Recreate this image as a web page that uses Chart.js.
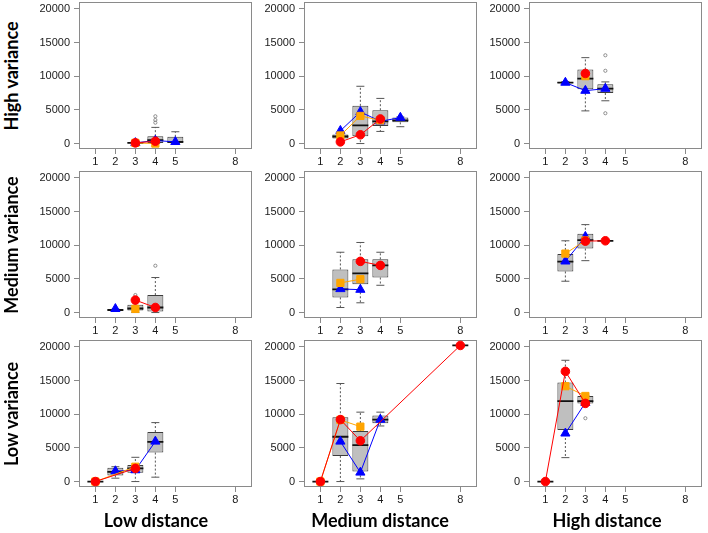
<!DOCTYPE html>
<html><head><meta charset="utf-8">
<script src="https://cdn.jsdelivr.net/npm/chart.js@4.4.0/dist/chart.umd.min.js"></script>
<style>
html,body{margin:0;padding:0;background:#fff;width:708px;height:533px;overflow:hidden;position:relative;}
.panel{position:absolute;}
.rowlab{position:absolute;font-family:Lato,"Open Sans",sans-serif;font-weight:bold;font-size:18px;color:#000;white-space:nowrap;transform:translate(-50%,-50%) rotate(-90deg);}
.collab{position:absolute;font-family:Lato,"Open Sans",sans-serif;font-weight:bold;font-size:18px;color:#000;white-space:nowrap;transform:translate(-50%,-50%);}
</style></head><body>
<script>
// ---------- data ----------
const xTicks = [1, 2, 3, 4, 5, 8];
const yTicks = [0, 5000, 10000, 15000, 20000];
const varianceLabels = ['High variance', 'Medium variance', 'Low variance'];
const distanceLabels = ['Low distance', 'Medium distance', 'High distance'];

// boxes: [position, lower whisker, Q1, median, Q3, upper whisker]
// outliers / series points: [position, value]

// High variance, low distance
const boxesHvLd = [[3, 0, 60, 100, 150, 200], [4, 0, 100, 500, 1100, 2400], [5, 0, 100, 250, 1000, 1750]];
const outliersHvLd = [[4, 3100], [4, 3500], [4, 4050]];
const blueHvLd = [[3, 100], [4, 450], [5, 250]];
const orangeHvLd = [[3, 100], [4, 0]];
const redHvLd = [[3, 100], [4, 350]];

// High variance, medium distance
const boxesHvMd = [[2, 500, 750, 1050, 1350, 1600], [3, 0, 1100, 2700, 5600, 8500], [4, 1800, 2600, 3300, 4950, 6700], [5, 2500, 3150, 3450, 3850, 3950]];
const outliersHvMd = [];
const blueHvMd = [[2, 1900], [3, 4700], [4, 3300], [5, 3850]];
const orangeHvMd = [[2, 1200], [3, 4100], [4, 3450]];
const redHvMd = [[2, 250], [3, 1300], [4, 3650]];

// High variance, high distance
const boxesHvHd = [[2, 8950, 9000, 9050, 9150, 9200], [3, 4850, 8050, 9650, 11000, 12750], [4, 6350, 7500, 8150, 8800, 9150]];
const outliersHvHd = [[4, 13100], [4, 10800], [4, 4500]];
const blueHvHd = [[2, 9050], [3, 7850], [4, 8150]];
const orangeHvHd = [[3, 10000]];
const redHvHd = [[3, 10400]];

// Medium variance, low distance
const boxesMvLd = [[2, 200, 300, 380, 450, 500], [3, 0, 300, 600, 1150, 1900], [4, 0, 150, 750, 2600, 5200]];
const outliersMvLd = [[3, 2600], [4, 6950]];
const blueMvLd = [[2, 550]];
const orangeMvLd = [[3, 550]];
const redMvLd = [[3, 1850], [4, 750]];

// Medium variance, medium distance
const boxesMvMd = [[2, 750, 2250, 3450, 6400, 8950], [3, 1450, 4200, 5800, 7900, 10400], [4, 4050, 5200, 7000, 7900, 8950]];
const outliersMvMd = [];
const blueMvMd = [[2, 3500], [3, 3400]];
const orangeMvMd = [[2, 4400], [3, 4950]];
const redMvMd = [[3, 7600], [4, 7000]];

// Medium variance, high distance
const boxesMvHd = [[2, 4650, 6100, 7550, 8700, 10650], [3, 7700, 9500, 10750, 11700, 13050], [4, 10650, 10650, 10650, 10650, 10650]];
const outliersMvHd = [];
const blueMvHd = [[2, 7600], [3, 11250]];
const orangeMvHd = [[2, 8750], [3, 10700]];
const redMvHd = [[3, 10600], [4, 10650]];

// Low variance, low distance
const boxesLvLd = [[1, 0, 0, 0, 0, 0], [2, 500, 900, 1450, 2050, 2200], [3, 0, 1300, 1950, 2450, 3600], [4, 650, 4300, 5900, 7350, 8750]];
const outliersLvLd = [];
const blueLvLd = [[2, 1550], [3, 1700], [4, 5950]];
const orangeLvLd = [[1, 0], [3, 2200]];
const redLvLd = [[1, 0], [3, 1950]];

// Low variance, medium distance
const boxesLvMd = [[1, 0, 0, 0, 0, 0], [2, 0, 3800, 6650, 9550, 14550], [3, 400, 1500, 5400, 7500, 10300], [4, 8250, 8650, 9200, 9800, 10300], [8, 20200, 20200, 20200, 20200, 20200]];
const outliersLvMd = [];
const blueLvMd = [[2, 5950], [3, 1350], [4, 9200]];
const orangeLvMd = [[1, 0], [2, 9150], [3, 8150]];
const redLvMd = [[1, 0], [2, 9200], [3, 6050], [8, 20200]];

// Low variance, high distance
const boxesLvHd = [[1, 0, 0, 0, 0, 0], [2, 3550, 7650, 11950, 14700, 18000], [3, 11550, 11600, 11950, 12700, 12750]];
const outliersLvHd = [[3, 9400]];
const blueLvHd = [[2, 7150], [3, 11700]];
const orangeLvHd = [[2, 14150], [3, 12700]];
const redLvHd = [[1, 0], [2, 16350], [3, 11600]];

// ---------- table of panels built from the arrays ----------
const panelGrid = [
  [
    {boxes: boxesHvLd, outliers: outliersHvLd, blue: blueHvLd, orange: orangeHvLd, red: redHvLd},
    {boxes: boxesHvMd, outliers: outliersHvMd, blue: blueHvMd, orange: orangeHvMd, red: redHvMd},
    {boxes: boxesHvHd, outliers: outliersHvHd, blue: blueHvHd, orange: orangeHvHd, red: redHvHd}
  ],
  [
    {boxes: boxesMvLd, outliers: outliersMvLd, blue: blueMvLd, orange: orangeMvLd, red: redMvLd},
    {boxes: boxesMvMd, outliers: outliersMvMd, blue: blueMvMd, orange: orangeMvMd, red: redMvMd},
    {boxes: boxesMvHd, outliers: outliersMvHd, blue: blueMvHd, orange: orangeMvHd, red: redMvHd}
  ],
  [
    {boxes: boxesLvLd, outliers: outliersLvLd, blue: blueLvLd, orange: orangeLvLd, red: redLvLd},
    {boxes: boxesLvMd, outliers: outliersLvMd, blue: blueLvMd, orange: orangeLvMd, red: redLvMd},
    {boxes: boxesLvHd, outliers: outliersLvHd, blue: blueLvHd, orange: orangeLvHd, red: redLvHd}
  ]
];

// ---------- layout ----------
const colLeft = [79, 304, 529];
const rowTop = [2, 171, 340];
const plotW = 175, plotH = 147;
const padL = 52, padT = 12, padR = 4, axisH = 26;
const X_MIN = 0.18, X_MAX = 8.82, Y_MIN = -808, Y_MAX = 21008;
const FRAME = '#8a8a8a';

const toXY = arr => arr.map(p => ({x: p[0], y: p[1]}));

function makePanel(r, c, p) {
  const div = document.createElement('div');
  div.className = 'panel';
  const W = padL + plotW + padR, H = padT + plotH + axisH;
  div.style.left = (colLeft[c] - padL) + 'px';
  div.style.top = (rowTop[r] - padT) + 'px';
  div.style.width = W + 'px';
  div.style.height = H + 'px';
  const cv = document.createElement('canvas');
  cv.width = W; cv.height = H;
  cv.style.width = W + 'px'; cv.style.height = H + 'px';
  div.appendChild(cv);
  document.body.appendChild(div);

  const extras = {
    id: 'boxExtras' + r + c,
    beforeDatasetsDraw(chart) {
      const {ctx, chartArea: a, scales: {x, y}} = chart;
      ctx.save();
      ctx.strokeStyle = FRAME; ctx.lineWidth = 1;
      ctx.strokeRect(Math.round(a.left) + 0.5, Math.round(a.top) + 0.5, Math.round(a.width) - 1, Math.round(a.height) - 1);
      for (const b of p.boxes) {
        const [pos, lo, q1, med, q3, hi] = b;
        const px = x.getPixelForValue(pos);
        const hw = x.getPixelForValue(pos + 0.2) - px;
        ctx.strokeStyle = '#555'; ctx.lineWidth = 1;
        ctx.setLineDash([2, 2]);
        ctx.beginPath();
        if (hi > q3) { ctx.moveTo(px, y.getPixelForValue(q3)); ctx.lineTo(px, y.getPixelForValue(hi)); }
        if (lo < q1) { ctx.moveTo(px, y.getPixelForValue(q1)); ctx.lineTo(px, y.getPixelForValue(lo)); }
        ctx.stroke();
        ctx.setLineDash([]);
        ctx.beginPath();
        if (hi > q3) { const yy = y.getPixelForValue(hi); ctx.moveTo(px - hw, yy); ctx.lineTo(px + hw, yy); }
        if (lo < q1) { const yy = y.getPixelForValue(lo); ctx.moveTo(px - hw, yy); ctx.lineTo(px + hw, yy); }
        ctx.stroke();
      }
      ctx.restore();
    },
    afterDatasetDraw(chart, args) {
      if (args.index !== 0) return;
      const {ctx, scales: {x, y}} = chart;
      ctx.save();
      ctx.strokeStyle = '#111'; ctx.lineWidth = 1.8;
      ctx.beginPath();
      for (const b of p.boxes) {
        const pos = b[0], med = b[3];
        const yy = y.getPixelForValue(med);
        ctx.moveTo(x.getPixelForValue(pos - 0.4), yy);
        ctx.lineTo(x.getPixelForValue(pos + 0.4), yy);
      }
      ctx.stroke();
      ctx.restore();
    }
  };

  const lineDs = (pts, color, style, radius, order) => ({
    type: 'line', data: toXY(pts), borderColor: color, backgroundColor: color,
    borderWidth: 1, pointStyle: style, pointRadius: radius, pointHoverRadius: radius,
    pointBorderWidth: 1, pointBorderColor: color, pointBackgroundColor: color,
    tension: 0, fill: false, order: order, clip: false
  });

  new Chart(cv, {
    type: 'bar',
    data: {
      datasets: [
        {
          type: 'bar',
          data: p.boxes.map(b => ({x: b[0], y: [b[2], b[4]]})),
          backgroundColor: '#bfbfbf', borderColor: '#3c3c3c', borderWidth: 1,
          borderSkipped: false, barPercentage: 0.8, categoryPercentage: 1, order: 10
        },
        {
          type: 'line', data: toXY(p.outliers), showLine: false,
          pointStyle: 'circle', pointRadius: 1.6, pointBorderWidth: 0.8,
          pointBorderColor: '#777', pointBackgroundColor: 'rgba(0,0,0,0)', order: 5
        },
        lineDs(p.blue, '#0000ff', 'triangle', 5.3, 3),
        lineDs(p.orange, '#ffa500', 'rect', 5.1, 2),
        lineDs(p.red, '#ff0000', 'circle', 4.3, 1)
      ]
    },
    options: {
      responsive: false, animation: false, devicePixelRatio: 1,
      layout: {padding: {left: 2, top: padT, right: padR, bottom: 0}},
      plugins: {legend: {display: false}, tooltip: {enabled: false}},
      scales: {
        x: {
          type: 'linear', min: X_MIN, max: X_MAX, offset: false,
          afterBuildTicks: s => { s.ticks = xTicks.map(v => ({value: v})); },
          afterFit: s => { s.height = axisH; },
          grid: {display: true, drawOnChartArea: false, drawTicks: true, tickLength: 5, color: FRAME, offset: false},
          border: {display: false},
          ticks: {autoSkip: false, maxRotation: 0, padding: 1, color: '#1a1a1a',
                  font: {family: 'Liberation Sans', size: 11}, callback: v => String(v)}
        },
        y: {
          type: 'linear', min: Y_MIN, max: Y_MAX,
          afterBuildTicks: s => { s.ticks = yTicks.map(v => ({value: v})); },
          afterFit: s => { s.width = 50; },
          grid: {display: true, drawOnChartArea: false, drawTicks: true, tickLength: 5, color: FRAME},
          border: {display: false},
          ticks: {autoSkip: false, padding: 4, color: '#1a1a1a',
                  font: {family: 'Liberation Sans', size: 11}, callback: v => String(v)}
        }
      }
    },
    plugins: [extras]
  });
}

for (let r = 0; r < 3; r++) for (let c = 0; c < 3; c++) makePanel(r, c, panelGrid[r][c]);

// row & column labels
const rowCenters = [75.5, 244.5, 413.5];
varianceLabels.forEach((t, i) => {
  const d = document.createElement('div');
  d.className = 'rowlab'; d.textContent = t;
  d.style.left = '11px'; d.style.top = rowCenters[i] + 'px';
  document.body.appendChild(d);
});
const colCenters = [156, 380, 607];
distanceLabels.forEach((t, i) => {
  const d = document.createElement('div');
  d.className = 'collab'; d.textContent = t;
  d.style.left = colCenters[i] + 'px'; d.style.top = '520px';
  document.body.appendChild(d);
});
</script>
</body></html>
